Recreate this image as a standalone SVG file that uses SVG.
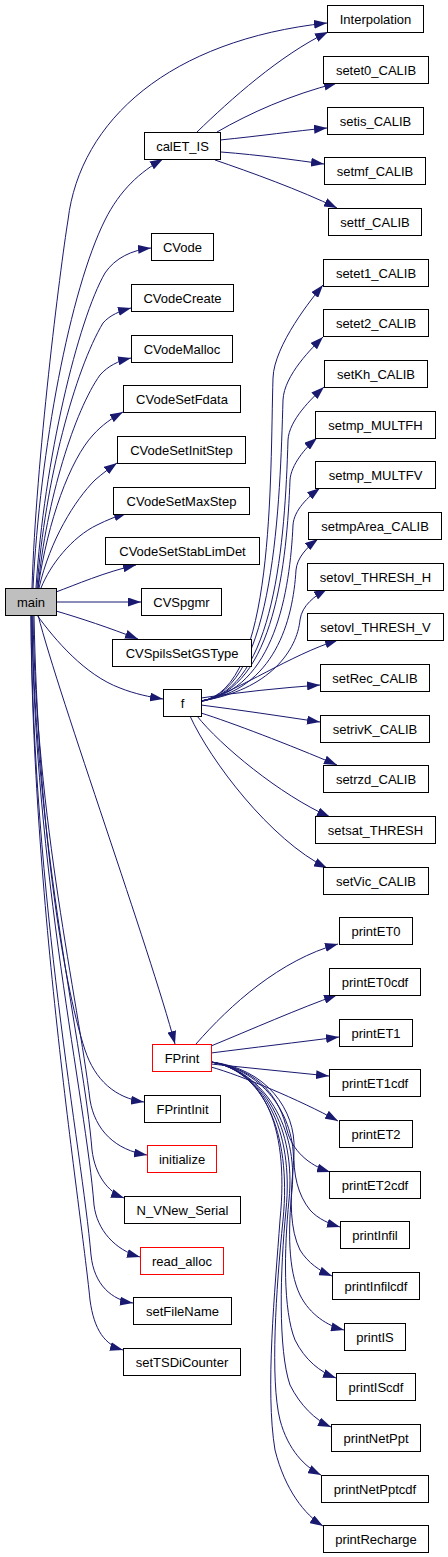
<svg xmlns="http://www.w3.org/2000/svg" width="448" height="1557" viewBox="0 0 448 1557">
<style>
.n rect{fill:#fff;stroke:#000;stroke-width:1}
.m rect{fill:#bfbfbf}
.r rect{stroke:#f00}
text{font-family:"Liberation Sans",Arial,Helvetica,sans-serif;font-size:13px;text-anchor:middle;fill:#000}
.e path{fill:none;stroke:#191970;stroke-width:1;marker-end:url(#a)}
</style>
<defs>
<marker id="a" markerWidth="13" markerHeight="9" refX="13" refY="4.5" orient="auto" markerUnits="userSpaceOnUse"><path d="M0,0L13,4.5L0,9z" fill="#191970"/></marker>
</defs>
<rect width="448" height="1557" fill="#fff"/>
<g id="edges" class="e">
<path d="M32,588 C36,460 60,270 68,220 C80,120 170,40 327,23"/>
<path d="M33,588 C40,450 70,290 105,220 C120,190 140,172 163,159"/>
<path d="M36,588 C44,460 78,320 105,273 C115,258 132,250 151,248"/>
<path d="M37,588 C45,480 75,370 103,323 C110,315 120,311 131,308"/>
<path d="M38,588 C46,500 75,410 100,375 C108,366 118,361 131,358"/>
<path d="M38,588 C48,520 70,460 93,435 C102,425 112,418 123,412"/>
<path d="M39,588 C50,540 75,500 95,480 C103,473 110,468 117,463"/>
<path d="M41,588 C50,565 72,537 97,525 C107,520 117,516 127,513"/>
<path d="M56,592 C75,585 105,572 136,565"/>
<path d="M56,602 L141,602"/>
<path d="M56,611 C80,618 110,628 138,639"/>
<path d="M37,615 C55,640 85,675 120,688 C135,694 150,697 163,699"/>
<path d="M38,615 C60,700 150,950 175,1044"/>
<path d="M34,615 C38,820 62,980 85,1050 C95,1080 115,1098 144,1102"/>
<path d="M33,615 C36,820 78,1000 90,1100 C95,1130 115,1150 147,1155"/>
<path d="M32,615 C35,850 84,1050 92,1150 C95,1175 108,1192 124,1198"/>
<path d="M32,615 C34,870 86,1100 94,1205 C97,1230 115,1250 140,1257"/>
<path d="M31,615 C33,900 82,1150 91,1255 C94,1285 112,1300 133,1303"/>
<path d="M31,615 C32,900 80,1200 90,1300 C94,1330 105,1345 123,1350"/>
<path d="M197,132 C230,100 280,55 328,32"/>
<path d="M217,132 C250,113 290,95 337,83"/>
<path d="M220,140 C260,136 295,131 327,128"/>
<path d="M221,152 C260,155 295,160 324,164"/>
<path d="M215,160 C250,172 300,190 337,208"/>
<path d="M201,701 C275,690 270,478 273,378 C274,345 313,297 323,285"/>
<path d="M201,701 C275,690 280,500 283,400 C284,375 313,347 323,337"/>
<path d="M201,701 C275,690 285,540 288,440 C289,420 312,398 324,387"/>
<path d="M201,701 C275,690 287,560 290,480 C291,465 305,448 317,438"/>
<path d="M201,701 C275,690 290,590 293,525 C294,510 308,497 320,488"/>
<path d="M201,701 C275,690 293,620 296,570 C297,558 307,547 318,539"/>
<path d="M201,701 C270,690 297,650 300,620 C302,605 315,596 327,589"/>
<path d="M201,702 C240,690 290,655 338,640"/>
<path d="M201,698 C240,692 280,688 320,685"/>
<path d="M201,705 C240,710 280,716 320,722"/>
<path d="M201,713 C230,722 290,745 337,765"/>
<path d="M197,716 C220,745 280,795 330,817"/>
<path d="M190,716 C210,760 270,840 327,868"/>
<path d="M196,1044 C230,1005 280,960 338,944"/>
<path d="M211,1046 C250,1030 300,1008 337,995"/>
<path d="M211,1053 C250,1048 300,1042 339,1037"/>
<path d="M211,1064 C250,1068 290,1072 329,1076"/>
<path d="M211,1067 C240,1075 300,1100 338,1121"/>
<path d="M211,1062 C262,1070 280,1100 287,1130 C292,1150 308,1165 330,1172"/>
<path d="M211,1062 C266,1068 296,1110 294,1150 C293,1175 298,1195 310,1210 C318,1219 330,1224 340,1227"/>
<path d="M211,1062 C266,1070 298,1120 293,1170 C290,1200 290,1230 300,1250 C308,1263 320,1271 332,1276"/>
<path d="M211,1062 C265,1070 298,1130 292,1190 C288,1230 288,1270 300,1295 C310,1315 328,1326 344,1330"/>
<path d="M211,1062 C264,1070 296,1130 289,1200 C284,1250 283,1310 295,1340 C305,1360 320,1372 336,1378"/>
<path d="M211,1062 C263,1070 294,1130 286,1210 C280,1270 278,1350 290,1385 C300,1405 315,1420 331,1427"/>
<path d="M211,1062 C262,1070 292,1130 283,1220 C276,1290 270,1380 280,1420 C288,1450 305,1467 321,1475"/>
<path d="M211,1062 C260,1070 290,1120 280,1220 C275,1290 265,1390 275,1450 C285,1490 305,1515 323,1526"/>
</g>
<g id="main" class="n m"><rect x="5.5" y="588.5" width="51" height="27"/><text x="31" y="607">main</text></g>
<g id="Interpolation" class="n"><rect x="327.5" y="5.5" width="96" height="27"/><text x="375.5" y="24">Interpolation</text></g>
<g id="setet0_CALIB" class="n"><rect x="323.5" y="56.5" width="105" height="27"/><text x="376" y="75">setet0_CALIB</text></g>
<g id="setis_CALIB" class="n"><rect x="327.5" y="107.5" width="96" height="27"/><text x="375.5" y="126">setis_CALIB</text></g>
<g id="calET_IS" class="n"><rect x="144.5" y="132.5" width="76" height="27"/><text x="182.5" y="151">calET_IS</text></g>
<g id="setmf_CALIB" class="n"><rect x="324.5" y="157.5" width="101" height="27"/><text x="375" y="176">setmf_CALIB</text></g>
<g id="settf_CALIB" class="n"><rect x="328.5" y="208.5" width="93" height="27"/><text x="375" y="227">settf_CALIB</text></g>
<g id="CVode" class="n"><rect x="151.5" y="233.5" width="62" height="27"/><text x="182.5" y="252">CVode</text></g>
<g id="setet1_CALIB" class="n"><rect x="323.5" y="259.5" width="105" height="27"/><text x="376" y="278">setet1_CALIB</text></g>
<g id="CVodeCreate" class="n"><rect x="131.5" y="284.5" width="102" height="27"/><text x="182.5" y="303">CVodeCreate</text></g>
<g id="setet2_CALIB" class="n"><rect x="323.5" y="309.5" width="105" height="27"/><text x="376" y="328">setet2_CALIB</text></g>
<g id="CVodeMalloc" class="n"><rect x="131.5" y="335.5" width="101" height="27"/><text x="182" y="354">CVodeMalloc</text></g>
<g id="setKh_CALIB" class="n"><rect x="324.5" y="360.5" width="103" height="27"/><text x="376" y="379">setKh_CALIB</text></g>
<g id="CVodeSetFdata" class="n"><rect x="123.5" y="385.5" width="117" height="27"/><text x="182" y="404">CVodeSetFdata</text></g>
<g id="setmp_MULTFH" class="n"><rect x="315.5" y="411.5" width="120" height="27"/><text x="375.5" y="430">setmp_MULTFH</text></g>
<g id="CVodeSetInitStep" class="n"><rect x="117.5" y="436.5" width="128" height="27"/><text x="181.5" y="455">CVodeSetInitStep</text></g>
<g id="setmp_MULTFV" class="n"><rect x="315.5" y="461.5" width="120" height="27"/><text x="375.5" y="480">setmp_MULTFV</text></g>
<g id="CVodeSetMaxStep" class="n"><rect x="113.5" y="487.5" width="136" height="27"/><text x="181.5" y="506">CVodeSetMaxStep</text></g>
<g id="setmpArea_CALIB" class="n"><rect x="308.5" y="512.5" width="133" height="27"/><text x="375" y="531">setmpArea_CALIB</text></g>
<g id="CVodeSetStabLimDet" class="n"><rect x="105.5" y="537.5" width="154" height="27"/><text x="182.5" y="556">CVodeSetStabLimDet</text></g>
<g id="setovl_THRESH_H" class="n"><rect x="307.5" y="563.5" width="136" height="27"/><text x="375.5" y="582">setovl_THRESH_H</text></g>
<g id="CVSpgmr" class="n"><rect x="141.5" y="588.5" width="80" height="27"/><text x="181.5" y="607">CVSpgmr</text></g>
<g id="setovl_THRESH_V" class="n"><rect x="307.5" y="613.5" width="136" height="27"/><text x="375.5" y="632">setovl_THRESH_V</text></g>
<g id="CVSpilsSetGSType" class="n"><rect x="112.5" y="639.5" width="139" height="27"/><text x="182" y="658">CVSpilsSetGSType</text></g>
<g id="setRec_CALIB" class="n"><rect x="320.5" y="664.5" width="109" height="27"/><text x="375" y="683">setRec_CALIB</text></g>
<g id="f" class="n"><rect x="163.5" y="689.5" width="38" height="27"/><text x="182.5" y="708">f</text></g>
<g id="setrivK_CALIB" class="n"><rect x="320.5" y="715.5" width="109" height="27"/><text x="375" y="734">setrivK_CALIB</text></g>
<g id="setrzd_CALIB" class="n"><rect x="323.5" y="765.5" width="105" height="27"/><text x="376" y="784">setrzd_CALIB</text></g>
<g id="setsat_THRESH" class="n"><rect x="315.5" y="816.5" width="120" height="27"/><text x="375.5" y="835">setsat_THRESH</text></g>
<g id="setVic_CALIB" class="n"><rect x="323.5" y="867.5" width="105" height="27"/><text x="376" y="886">setVic_CALIB</text></g>
<g id="printET0" class="n"><rect x="339.5" y="917.5" width="73" height="27"/><text x="376" y="936">printET0</text></g>
<g id="printET0cdf" class="n"><rect x="329.5" y="968.5" width="91" height="27"/><text x="375" y="987">printET0cdf</text></g>
<g id="printET1" class="n"><rect x="339.5" y="1019.5" width="73" height="27"/><text x="376" y="1038">printET1</text></g>
<g id="FPrint" class="n r"><rect x="152.5" y="1044.5" width="59" height="27"/><text x="182" y="1063">FPrint</text></g>
<g id="printET1cdf" class="n"><rect x="329.5" y="1069.5" width="91" height="27"/><text x="375" y="1088">printET1cdf</text></g>
<g id="FPrintInit" class="n"><rect x="144.5" y="1095.5" width="76" height="27"/><text x="182.5" y="1114">FPrintInit</text></g>
<g id="printET2" class="n"><rect x="339.5" y="1120.5" width="73" height="27"/><text x="376" y="1139">printET2</text></g>
<g id="initialize" class="n r"><rect x="147.5" y="1145.5" width="69" height="27"/><text x="182" y="1164">initialize</text></g>
<g id="printET2cdf" class="n"><rect x="329.5" y="1171.5" width="91" height="27"/><text x="375" y="1190">printET2cdf</text></g>
<g id="N_VNew_Serial" class="n"><rect x="124.5" y="1196.5" width="116" height="27"/><text x="182.5" y="1215">N_VNew_Serial</text></g>
<g id="printInfil" class="n"><rect x="340.5" y="1221.5" width="69" height="27"/><text x="375" y="1240">printInfil</text></g>
<g id="read_alloc" class="n r"><rect x="140.5" y="1247.5" width="83" height="27"/><text x="182" y="1266">read_alloc</text></g>
<g id="printInfilcdf" class="n"><rect x="332.5" y="1272.5" width="87" height="27"/><text x="376" y="1291">printInfilcdf</text></g>
<g id="setFileName" class="n"><rect x="133.5" y="1297.5" width="98" height="27"/><text x="182.5" y="1316">setFileName</text></g>
<g id="printIS" class="n"><rect x="344.5" y="1323.5" width="61" height="27"/><text x="375" y="1342">printIS</text></g>
<g id="setTSDiCounter" class="n"><rect x="123.5" y="1348.5" width="117" height="27"/><text x="182" y="1367">setTSDiCounter</text></g>
<g id="printIScdf" class="n"><rect x="336.5" y="1373.5" width="79" height="27"/><text x="376" y="1392">printIScdf</text></g>
<g id="printNetPpt" class="n"><rect x="331.5" y="1424.5" width="89" height="27"/><text x="376" y="1443">printNetPpt</text></g>
<g id="printNetPptcdf" class="n"><rect x="321.5" y="1475.5" width="107" height="27"/><text x="375" y="1494">printNetPptcdf</text></g>
<g id="printRecharge" class="n"><rect x="323.5" y="1525.5" width="105" height="27"/><text x="376" y="1544">printRecharge</text></g>
</svg>
